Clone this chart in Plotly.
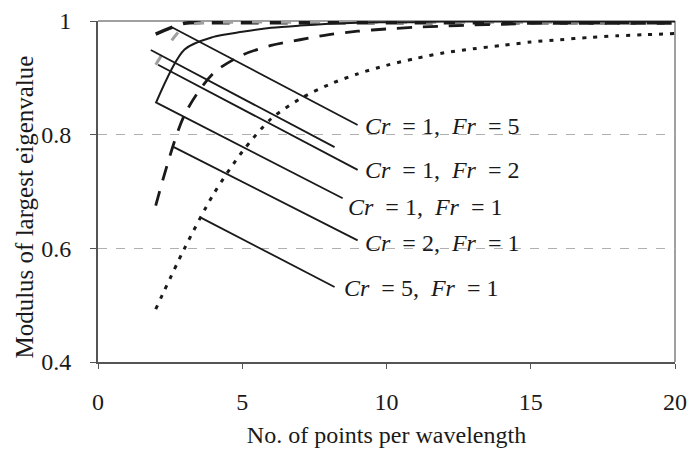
import plotly.graph_objects as go

# ---- data ----
ppw = [2, 3, 4, 5, 6, 7, 8, 9, 10, 11, 12, 13, 14, 15, 16, 17, 18, 19, 20]

cr1_fr5 = [0.977, 0.996, 0.997, 0.997, 0.997, 0.997, 0.997, 0.997, 0.997, 0.997,
           0.997, 0.997, 0.997, 0.997, 0.997, 0.997, 0.997, 0.997, 0.997]
cr1_fr2 = [0.923, 0.990, 0.997, 0.998, 0.998, 0.998, 0.998, 0.998, 0.998, 0.998,
           0.998, 0.998, 0.998, 0.998, 0.998, 0.998, 0.998, 0.998, 0.998]
cr1_fr1 = [0.855, 0.950, 0.972, 0.981, 0.988, 0.992, 0.995, 0.997, 0.998, 0.998,
           0.999, 0.999, 0.999, 0.999, 0.999, 0.999, 0.999, 0.999, 0.999]
cr2_fr1 = [0.675, 0.835, 0.908, 0.940, 0.957, 0.967, 0.976, 0.982, 0.986, 0.989,
           0.991, 0.993, 0.994, 0.996, 0.996, 0.996, 0.996, 0.996, 0.996]
cr5_fr1 = [0.493, 0.600, 0.695, 0.770, 0.828, 0.863, 0.888, 0.907, 0.922, 0.934,
           0.944, 0.951, 0.957, 0.963, 0.967, 0.971, 0.974, 0.976, 0.978]

series_names = ["Cr = 1, Fr = 5", "Cr = 1, Fr = 2", "Cr = 1, Fr = 1",
                "Cr = 2, Fr = 1", "Cr = 5, Fr = 1"]

SP = "\u2002"
label_texts = [f"<i>Cr</i>{SP}= 1,{SP}<i>Fr</i>{SP}= 5", "",
               f"<i>Cr</i>{SP}= 1,{SP}<i>Fr</i>{SP}= 2",
               f"<i>Cr</i>{SP}= 1,{SP}<i>Fr</i>{SP}= 1",
               f"<i>Cr</i>{SP}= 2,{SP}<i>Fr</i>{SP}= 1",
               f"<i>Cr</i>{SP}= 5,{SP}<i>Fr</i>{SP}= 1"]
label_x = [9.2, 9.2, 9.2, 8.6, 9.2, 8.45]
label_y = [0.815, 0.78, 0.737, 0.672, 0.609, 0.530]
ptr_x0 = [2.56, 1.83, 2.08, 2.04, 2.63, 3.53]
ptr_y0 = [0.989, 0.949, 0.923, 0.856, 0.778, 0.655]
ptr_x1 = [9.0, 8.2, 9.0, 8.48, 9.0, 8.2]
ptr_y1 = [0.817, 0.778, 0.738, 0.688, 0.614, 0.532]

x_title = "No. of points per wavelength"
y_title = "Modulus of largest eigenvalue"

FONT = "Liberation Serif, Times New Roman, serif"

fig = go.Figure()

styles = [
    dict(color="#1a1a1a", width=3.5, dash="18px,11px"),
    dict(color="#a0a0a0", width=3, dash="10px,19px"),
    dict(color="#1a1a1a", width=2, dash="solid"),
    dict(color="#1a1a1a", width=2.8, dash="15px,11px"),
    dict(color="#1a1a1a", width=3, dash="4px,7px"),
]
for name, ys, st in zip(series_names, [cr1_fr5, cr1_fr2, cr1_fr1, cr2_fr1, cr5_fr1], styles):
    fig.add_trace(go.Scatter(x=ppw, y=ys, mode="lines", name=name,
                             line=dict(shape="spline", smoothing=0.8, **st),
                             showlegend=False, hoverinfo="skip"))

for i in range(len(ptr_x0)):
    fig.add_shape(type="line", xref="x", yref="y",
                  x0=ptr_x0[i], y0=ptr_y0[i], x1=ptr_x1[i], y1=ptr_y1[i],
                  line=dict(color="#1a1a1a", width=1.8))
    if label_texts[i]:
        fig.add_annotation(x=label_x[i], y=label_y[i], xref="x", yref="y",
                           text=label_texts[i], showarrow=False, xanchor="left",
                           yanchor="middle", font=dict(family=FONT, size=24, color="#1a1a1a"))

# y-axis title as rotated text
fig.add_annotation(x=-0.127, y=0.455, xref="paper", yref="paper", text=y_title,
                   textangle=-90, showarrow=False, xanchor="center", yanchor="middle",
                   font=dict(family=FONT, size=25, color="#1a1a1a"))

# top / right frame in gray
fig.add_shape(type="line", xref="paper", yref="paper", x0=0, y0=1, x1=1, y1=1,
              line=dict(color="#a0a0a0", width=2), layer="below")
fig.add_shape(type="line", xref="paper", yref="paper", x0=1, y0=0, x1=1, y1=1,
              line=dict(color="#a0a0a0", width=2), layer="below")

fig.update_layout(
    width=689, height=450,
    margin=dict(l=98, r=14, t=21, b=88, autoexpand=False),
    paper_bgcolor="white", plot_bgcolor="white",
    font=dict(family=FONT, size=24, color="#1a1a1a"),
    xaxis=dict(range=[0, 20], tickvals=[0, 5, 10, 15, 20], showgrid=False,
               showline=True, linecolor="#555555", linewidth=2,
               ticks="outside", ticklen=5, tickcolor="#555555",
               ticklabelstandoff=12,
               zeroline=False, automargin=False,
               tickfont=dict(size=24),
               title=dict(text=x_title, standoff=12, font=dict(size=24))),
    yaxis=dict(range=[0.4, 1.0], tickvals=[0.4, 0.6, 0.8, 1.0],
               ticktext=["0.4", "0.6", "0.8", "1"],
               showgrid=True, gridcolor="#b0b0b0", griddash="dash", gridwidth=1,
               showline=True, linecolor="#555555", linewidth=2,
               ticks="outside", ticklen=6, tickcolor="#555555",
               ticklabelstandoff=14,
               zeroline=False, automargin=False,
               tickfont=dict(size=24)),
)

fig.write_html("out.html")
